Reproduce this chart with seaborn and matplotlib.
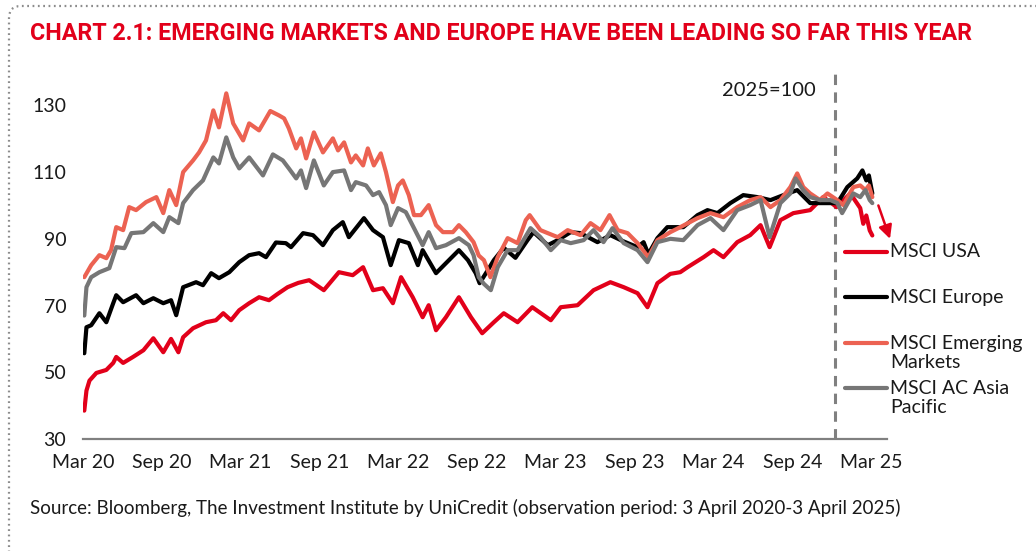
import pandas as pd
import matplotlib
matplotlib.use('Agg')
import matplotlib.pyplot as plt
import matplotlib.dates as mdates
from matplotlib.lines import Line2D
from matplotlib.patches import FancyBboxPatch
import seaborn as sns

# values (2025 = 100)
usa_dates = ['2020-04-03', '2020-04-08', '2020-04-15', '2020-05-01', '2020-05-24', '2020-06-09', '2020-06-16',
             '2020-07-02', '2020-07-25', '2020-08-18', '2020-09-10', '2020-10-03', '2020-10-21', '2020-11-07',
             '2020-11-18', '2020-12-11', '2021-01-10', '2021-02-02', '2021-02-19', '2021-03-09', '2021-03-28',
             '2021-04-20', '2021-05-13', '2021-06-05', '2021-06-24', '2021-07-18', '2021-08-12', '2021-09-06',
             '2021-10-10', '2021-11-14', '2021-12-16', '2022-01-09', '2022-02-01', '2022-02-24', '2022-03-19',
             '2022-04-07', '2022-05-04', '2022-05-27', '2022-06-10', '2022-06-27', '2022-07-20', '2022-08-19',
             '2022-09-16', '2022-10-12', '2022-11-08', '2022-12-01', '2023-01-02', '2023-02-05', '2023-03-20',
             '2023-04-12', '2023-05-21', '2023-06-27', '2023-08-05', '2023-09-05', '2023-10-07', '2023-10-30',
             '2023-11-22', '2023-12-22', '2024-01-14', '2024-01-31', '2024-03-08', '2024-03-31', '2024-04-23',
             '2024-05-25', '2024-06-24', '2024-07-18', '2024-08-08', '2024-09-02', '2024-10-02', '2024-11-10',
             '2024-12-10', '2024-12-27', '2025-01-10', '2025-02-11', '2025-03-06', '2025-03-13', '2025-03-20',
             '2025-03-28', '2025-04-03']
usa_vals = [38.5, 44.5, 47.5, 49.8, 50.7, 52.8, 54.6,
            52.8, 54.6, 56.6, 60.2, 56.0, 60.0, 56.0,
            60.5, 63.2, 65.0, 65.6, 67.7, 65.6, 68.6,
            70.7, 72.5, 71.6, 73.4, 75.5, 76.8, 77.6,
            74.6, 80.0, 79.1, 81.5, 74.6, 75.2, 70.7,
            78.5, 72.5, 66.5, 70.1, 62.6, 66.5, 72.5,
            66.5, 61.7, 65.0, 67.7, 65.0, 69.5, 65.6,
            69.5, 70.1, 74.6, 77.0, 75.5, 73.7, 69.5,
            76.7, 79.5, 80.0, 81.5, 84.5, 86.6, 84.5,
            89.0, 91.1, 94.1, 87.5, 95.6, 97.7, 98.6,
            102.5, 101.0, 99.5, 103.6, 99.2, 94.5, 97.0,
            92.5, 91.0]

eur_dates = ['2020-04-03', '2020-04-08', '2020-04-19', '2020-05-08', '2020-05-24', '2020-06-09', '2020-06-16',
             '2020-07-02', '2020-08-01', '2020-08-18', '2020-09-10', '2020-10-03', '2020-10-21', '2020-11-02',
             '2020-11-18', '2020-12-18', '2021-01-03', '2021-01-22', '2021-02-09', '2021-03-05', '2021-03-28',
             '2021-04-20', '2021-05-13', '2021-05-29', '2021-06-21', '2021-07-14', '2021-07-26', '2021-08-23',
             '2021-09-15', '2021-10-08', '2021-10-31', '2021-11-23', '2021-12-07', '2022-01-11', '2022-02-01',
             '2022-02-24', '2022-03-14', '2022-04-02', '2022-04-25', '2022-05-16', '2022-05-27', '2022-06-27',
             '2022-07-20', '2022-08-19', '2022-09-09', '2022-09-27', '2022-10-06', '2022-10-25', '2022-11-08',
             '2022-12-01', '2022-12-28', '2023-01-25', '2023-02-08', '2023-03-13', '2023-04-05', '2023-05-05',
             '2023-05-28', '2023-07-06', '2023-08-05', '2023-09-05', '2023-10-07', '2023-10-21', '2023-11-01',
             '2023-11-22', '2023-12-15', '2024-01-21', '2024-02-23', '2024-03-17', '2024-04-09', '2024-05-09',
             '2024-06-08', '2024-07-11', '2024-08-10', '2024-09-09', '2024-10-11', '2024-11-10', '2024-12-10',
             '2025-01-12', '2025-02-04', '2025-02-27', '2025-03-11', '2025-03-20', '2025-03-26', '2025-04-03']
eur_vals = [55.7, 63.5, 64.1, 67.7, 65.0, 70.7, 73.1,
            71.0, 73.1, 70.7, 72.2, 70.7, 71.6, 67.1,
            75.5, 77.0, 76.1, 79.7, 78.2, 80.0, 83.0,
            85.1, 85.7, 84.5, 88.9, 88.7, 87.5, 91.7,
            91.1, 88.1, 92.6, 95.0, 90.5, 96.2, 92.6,
            90.5, 82.1, 89.6, 88.7, 82.1, 86.6, 79.7,
            82.7, 86.6, 83.6, 79.7, 76.7, 80.6, 83.6,
            87.3, 84.3, 89.6, 92.0, 88.1, 89.6, 92.0,
            91.7, 89.0, 91.1, 89.2, 87.5, 89.0, 85.4,
            90.2, 93.5, 93.5, 97.1, 98.6, 97.7, 100.7,
            103.1, 102.5, 101.6, 103.1, 104.6, 100.7, 100.7,
            100.7, 105.5, 108.1, 110.5, 107.5, 109.0, 103.6]

em_dates = ['2020-04-03', '2020-04-19', '2020-05-08', '2020-05-24', '2020-06-04', '2020-06-16', '2020-07-02',
            '2020-07-16', '2020-08-01', '2020-08-24', '2020-09-17', '2020-10-03', '2020-10-17', '2020-11-02',
            '2020-11-18', '2020-12-11', '2020-12-25', '2021-01-10', '2021-01-27', '2021-02-09', '2021-02-26',
            '2021-03-14', '2021-04-06', '2021-04-20', '2021-05-13', '2021-06-08', '2021-06-28', '2021-07-10',
            '2021-07-21', '2021-08-07', '2021-08-18', '2021-08-30', '2021-09-17', '2021-10-08', '2021-10-31',
            '2021-11-12', '2021-11-26', '2021-12-12', '2021-12-23', '2022-01-09', '2022-01-20', '2022-02-03',
            '2022-02-19', '2022-03-03', '2022-03-19', '2022-03-31', '2022-04-11', '2022-04-25', '2022-05-07',
            '2022-05-23', '2022-06-10', '2022-06-27', '2022-07-13', '2022-08-05', '2022-08-19', '2022-09-04',
            '2022-09-22', '2022-10-04', '2022-10-16', '2022-10-31', '2022-11-17', '2022-12-10', '2023-01-02',
            '2023-01-21', '2023-01-30', '2023-02-24', '2023-03-13', '2023-04-05', '2023-04-28', '2023-05-28',
            '2023-06-20', '2023-07-13', '2023-08-03', '2023-08-22', '2023-09-14', '2023-10-07', '2023-11-01',
            '2023-11-22', '2023-12-22', '2024-01-14', '2024-02-23', '2024-03-24', '2024-04-23', '2024-05-25',
            '2024-06-24', '2024-07-18', '2024-08-10', '2024-09-02', '2024-09-25', '2024-10-11', '2024-10-25',
            '2024-11-10', '2024-12-03', '2024-12-20', '2025-01-12', '2025-01-26', '2025-02-18', '2025-03-06',
            '2025-03-18', '2025-03-26', '2025-04-03']
em_vals = [78.5, 82.1, 85.1, 84.2, 86.6, 93.5, 92.6,
           99.5, 98.6, 101.0, 102.5, 97.7, 104.6, 100.1,
           110.0, 113.5, 115.9, 119.5, 128.5, 123.4, 133.6,
           124.6, 119.5, 124.6, 122.5, 128.3, 127.0, 126.1,
           123.1, 117.1, 120.1, 114.1, 121.9, 115.9, 120.1,
           116.5, 118.9, 112.9, 115.0, 112.0, 117.1, 112.0,
           115.6, 110.0, 101.0, 106.0, 107.5, 103.1, 97.1,
           97.1, 100.1, 94.1, 92.0, 92.0, 94.1, 92.0,
           89.0, 85.0, 83.6, 78.5, 84.5, 90.2, 88.7,
           95.6, 97.1, 92.6, 91.7, 90.5, 92.6, 91.1,
           94.7, 92.6, 97.1, 92.6, 91.7, 88.7, 84.5,
           89.6, 92.0, 93.5, 96.2, 97.7, 96.5, 99.5,
           101.6, 102.5, 99.5, 101.6, 105.5, 109.6, 105.5,
           103.6, 101.6, 103.6, 101.6, 100.1, 105.5, 106.0,
           104.6, 106.0, 102.5]

asia_dates = ['2020-04-03', '2020-04-08', '2020-04-19', '2020-05-08', '2020-05-31', '2020-06-16', '2020-07-05',
              '2020-07-21', '2020-08-18', '2020-09-10', '2020-10-03', '2020-10-17', '2020-11-07', '2020-11-18',
              '2020-12-11', '2021-01-03', '2021-01-27', '2021-02-09', '2021-02-26', '2021-03-14', '2021-03-28',
              '2021-04-20', '2021-05-22', '2021-06-14', '2021-07-07', '2021-07-21', '2021-08-07', '2021-08-18',
              '2021-08-30', '2021-09-17', '2021-10-10', '2021-10-31', '2021-11-26', '2021-12-12', '2021-12-23',
              '2022-01-16', '2022-02-01', '2022-02-15', '2022-03-03', '2022-03-14', '2022-03-31', '2022-04-18',
              '2022-05-07', '2022-05-27', '2022-06-10', '2022-06-27', '2022-07-20', '2022-08-19', '2022-09-11',
              '2022-09-22', '2022-10-04', '2022-10-16', '2022-11-01', '2022-11-17', '2022-12-10', '2023-01-02',
              '2023-02-01', '2023-02-24', '2023-03-20', '2023-04-12', '2023-05-05', '2023-06-04', '2023-06-27',
              '2023-07-20', '2023-08-10', '2023-09-05', '2023-10-07', '2023-10-30', '2023-11-22', '2023-12-22',
              '2024-01-21', '2024-02-23', '2024-03-24', '2024-04-23', '2024-05-25', '2024-06-24', '2024-07-18',
              '2024-08-08', '2024-09-02', '2024-09-25', '2024-10-07', '2024-10-25', '2024-11-10', '2024-12-03',
              '2024-12-27', '2025-01-12', '2025-01-23', '2025-02-18', '2025-03-06', '2025-03-18', '2025-03-28',
              '2025-04-03']
asia_vals = [67.0, 75.5, 78.5, 80.0, 81.2, 87.5, 87.2,
             91.7, 92.0, 94.7, 92.0, 96.5, 94.7, 100.7,
             104.6, 107.5, 114.4, 112.6, 120.4, 114.4, 111.1,
             114.4, 109.0, 115.3, 113.5, 111.1, 108.1, 110.5,
             105.2, 113.5, 106.0, 110.0, 110.5, 104.6, 107.0,
             106.0, 103.1, 104.0, 100.1, 94.1, 99.2, 98.0,
             93.2, 88.1, 92.0, 87.2, 88.1, 90.2, 88.1,
             85.1, 78.5, 76.5, 74.6, 81.5, 86.6, 86.6,
             93.2, 90.5, 86.6, 89.6, 88.7, 89.6, 92.6,
             89.0, 93.2, 88.7, 86.6, 83.0, 89.0, 90.0,
             89.6, 94.1, 96.2, 92.6, 98.6, 100.1, 101.6,
             90.5, 100.7, 103.6, 108.1, 104.6, 102.5, 101.6,
             101.6, 100.7, 97.7, 103.6, 102.5, 104.6, 101.6,
             100.7]

series_names = ['MSCI USA', 'MSCI Europe', 'MSCI Emerging Markets', 'MSCI AC Asia Pacific']
legend_labels = ['MSCI USA', 'MSCI Europe', 'MSCI Emerging\nMarkets', 'MSCI AC Asia\nPacific']
colors = ['#E2001A', '#000000', '#EC6252', '#767676']
tick_dates = ['2020-03-31', '2020-09-30', '2021-03-31', '2021-09-30', '2022-03-31', '2022-09-30',
              '2023-03-31', '2023-09-30', '2024-03-31', '2024-09-30', '2025-03-31']
y_ticks = [30, 50, 70, 90, 110, 130]
base_date = '2025-01-07'

title_text = 'CHART 2.1: EMERGING MARKETS AND EUROPE HAVE BEEN LEADING SO FAR THIS YEAR'
source_text = ('Source: Bloomberg, The Investment Institute by UniCredit '
               '(observation period: 3 April 2020-3 April 2025)')

red = '#E2001A'
grey = '#808080'

all_dates = [usa_dates, eur_dates, em_dates, asia_dates]
all_vals = [usa_vals, eur_vals, em_vals, asia_vals]
frames = []
for name, d, v in zip(series_names, all_dates, all_vals):
    frames.append(pd.DataFrame({'date': pd.to_datetime(d), 'value': v, 'series': name}))
df = pd.concat(frames, ignore_index=True)

sns.set_theme(style='white')
plt.rcParams['font.family'] = ['Lato', 'DejaVu Sans']

W, H = 1036, 551
fig = plt.figure(figsize=(W / 100, H / 100), dpi=100)
ax = fig.add_axes([83 / W, 1 - 439 / H, 804 / W, 367 / H])

sns.lineplot(data=df, x='date', y='value', hue='series', hue_order=series_names,
             palette=colors, linewidth=3.0, estimator=None, legend=False, ax=ax)

ax.axvline(pd.Timestamp(base_date), color=grey, lw=2.2, dashes=(3.4, 2.4), zorder=0)
ax.annotate('2025=100', xy=(pd.Timestamp(base_date), 134.5), xytext=(-14, 0),
            textcoords='offset points', ha='right', va='center', fontsize=14.5, color='#1a1a1a')

# arrow on the USA line
ax.annotate('', xy=(pd.Timestamp('2025-05-14'), 90.0), xytext=(pd.Timestamp('2025-04-17'), 100.0),
            arrowprops=dict(arrowstyle='-|>', color=red, lw=1.8, mutation_scale=20,
                            shrinkA=0, shrinkB=0),
            annotation_clip=False)

ax.set_ylim(30, 140)
ax.set_yticks(y_ticks)
ax.set_xlim(pd.Timestamp('2020-03-31'), pd.Timestamp('2025-05-07'))
ax.set_xticks(pd.to_datetime(tick_dates))
ax.xaxis.set_major_formatter(mdates.DateFormatter('%b %y'))
ax.tick_params(axis='both', length=0, labelsize=14, colors='#1a1a1a')
ax.tick_params(axis='x', pad=11)
ax.tick_params(axis='y', pad=12)
ax.set_xlabel('')
ax.set_ylabel('')
for s in ['left', 'top', 'right']:
    ax.spines[s].set_visible(False)
ax.spines['bottom'].set_color(grey)
ax.spines['bottom'].set_linewidth(1.6)
ax.grid(False)

# legend drawn by hand so the handle sits on the first text line
leg_y = [252, 297, 343, 388]
for lab, col, py in zip(legend_labels, colors, leg_y):
    fig.add_artist(Line2D([845 / W, 887 / W], [1 - py / H, 1 - py / H], color=col, lw=3,
                          transform=fig.transFigure))
    fig.text(890 / W, 1 - (py - 8.5) / H, lab, fontsize=14, va='top', ha='left',
             color='#1a1a1a', linespacing=1.15)

# dotted frame with a rounded corner
frame = FancyBboxPatch((0.09, -0.3), 11.0, 5.45 + 0.3,
                       boxstyle='round,pad=0,rounding_size=0.12',
                       transform=fig.dpi_scale_trans, fill=False,
                       edgecolor='#8c8c8c', lw=1.6, linestyle=(0, (0.8, 1.6)))
fig.add_artist(frame)

title = fig.text(30 / W, 1 - 33 / H, title_text, color=red, fontsize=16, fontweight='bold',
                 family=['Roboto', 'DejaVu Sans'], va='center', ha='left')
fig.canvas.draw()
w = title.get_window_extent().width
title.set_fontsize(16 * 942 / w)

fig.text(30 / W, 1 - 508 / H, source_text, fontsize=13.5, va='center', ha='left', color='#1a1a1a')

fig.savefig('out.png', dpi=100)
